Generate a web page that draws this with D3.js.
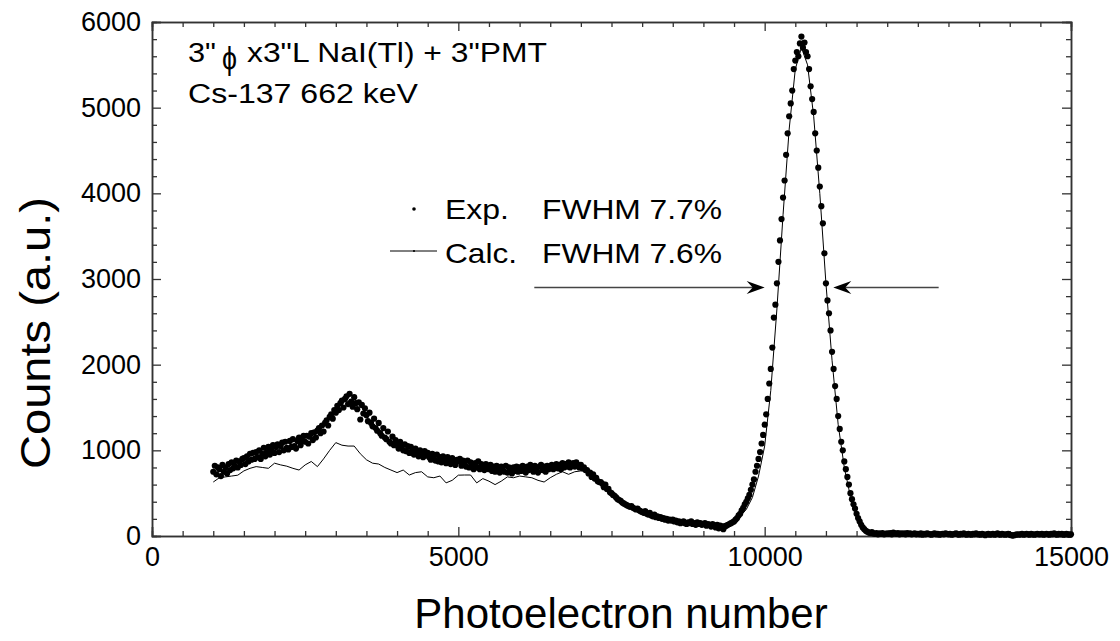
<!DOCTYPE html>
<html>
<head>
<meta charset="utf-8">
<script src="https://cdn.jsdelivr.net/npm/d3@7"></script>
<style>
  body { margin: 0; background: #fff; }
  svg text { font-family: "Liberation Sans", Arial, sans-serif; fill: #000; }
</style>
</head>
<body>
<svg id="chart" width="1120" height="641"></svg>
<script>

// experimental spectrum, one point every 25 photoelectrons starting at 1000
var expStart = 1000, expStep = 25
var expCounts = [
  750, 820, 720, 800, 780, 700, 830, 750, 800, 730, 840, 770, 860, 790, 820, 880, 800, 870, 830, 900,
  910, 840, 930, 870, 960, 890, 970, 900, 980, 920, 1000, 900, 960, 1030, 930, 980, 1040, 950, 1000, 1060,
  970, 1040, 1070, 980, 1050, 1090, 1000, 1100, 1030, 1010, 1110, 1040, 1130, 1050, 1020, 1110, 1150, 1060, 1120, 1170,
  1100, 1170, 1080, 1160, 1200, 1120, 1210, 1150, 1230, 1260, 1200, 1290, 1220, 1320, 1350, 1290, 1390, 1420, 1370, 1470,
  1440, 1520, 1470, 1550, 1580, 1500, 1600, 1630, 1540, 1660, 1570, 1510, 1620, 1550, 1480, 1560, 1360, 1530, 1430, 1490,
  1410, 1340, 1440, 1320, 1280, 1370, 1260, 1230, 1320, 1200, 1170, 1260, 1150, 1130, 1220, 1100, 1080, 1160, 1060, 1120,
  1080, 1020, 1100, 1040, 1000, 1070, 990, 1050, 970, 1040, 990, 950, 1020, 970, 930, 1000, 950, 920, 990, 940,
  970, 920, 890, 960, 910, 880, 950, 870, 920, 860, 930, 890, 850, 920, 870, 840, 910, 860, 830, 890,
  870, 900, 820, 880, 840, 810, 880, 800, 860, 820, 780, 850, 800, 870, 780, 840, 800, 770, 840, 790,
  780, 830, 760, 810, 750, 820, 780, 740, 810, 770, 750, 820, 740, 800, 770, 730, 800, 760, 810, 750,
  800, 760, 820, 770, 740, 810, 770, 830, 780, 750, 820, 780, 740, 810, 830, 770, 810, 750, 820, 780,
  810, 830, 780, 820, 840, 790, 830, 780, 850, 800, 840, 810, 860, 800, 840, 850, 810, 860, 830, 800,
  830, 790, 800, 770, 770, 730, 740, 690, 720, 670, 680, 640, 630, 630, 610, 570, 600, 550, 550, 510,
  500, 480, 470, 450, 430, 420, 410, 390, 380, 370, 360, 350, 340, 350, 330, 320, 310, 320, 300, 290,
  280, 270, 290, 260, 250, 270, 240, 230, 250, 220, 230, 210, 220, 200, 210, 190, 200, 180, 190, 180,
  190, 170, 180, 160, 170, 150, 160, 170, 150, 140, 160, 150, 170, 140, 150, 130, 160, 140, 150, 130,
  140, 150, 120, 140, 130, 110, 140, 120, 100, 130, 90, 120, 100, 80, 110, 120, 130, 140, 150, 160,
  170, 190, 210, 240, 260, 300, 330, 370, 400, 440, 480, 540, 600, 660, 750, 820, 900, 980, 1080, 1180,
  1300, 1420, 1600, 1780, 1950, 2200, 2550, 2700, 2950, 3200, 3450, 3700, 3950, 4150, 4450, 4700, 4900, 5050, 5200, 5450,
  5550, 5650, 5600, 5750, 5830, 5700, 5760, 5650, 5600, 5450, 5250, 5100, 4950, 4700, 4500, 4300, 4080, 3850, 3650, 3300,
  2950, 2750, 2600, 2400, 2150, 1950, 1750, 1600, 1400, 1250, 1100, 1000, 870, 780, 690, 600, 500, 430, 370, 320,
  260, 210, 170, 130, 100, 80, 60, 50, 40, 35, 45, 30, 25, 35, 20, 30, 25, 35, 20, 25,
  30, 25, 35, 20, 40, 30, 25, 35, 20, 30, 25, 30, 20, 35, 25, 30, 20, 25, 30, 20,
  25, 20, 30, 15, 25, 20, 30, 25, 20, 15, 25, 30, 20, 25, 15, 20, 25, 20, 30, 25,
  20, 25, 15, 20, 25, 30, 20, 15, 25, 20, 30, 20, 15, 25, 20, 15, 25, 20, 30, 20,
  20, 15, 25, 20, 10, 20, 25, 15, 20, 25, 15, 20, 30, 20, 15, 25, 20, 15, 20, 25,
  15, 10, 5, 10, 15, 20, 15, 20, 25, 15, 20, 25, 20, 15, 25, 20, 15, 20, 25, 20,
  20, 25, 15, 20, 25, 20, 15, 25, 20, 30, 20, 15, 25, 20, 25, 15, 20, 25, 20, 15,
  20
]

// calculated spectrum, one point every 100 photoelectrons starting at 1000
var calcStart = 1000, calcStep = 100
var calcCounts = [
  630, 680, 690, 700, 710, 760, 790, 810, 800, 790,
  850, 830, 815, 790, 770, 830, 870, 810, 900, 1000,
  1090, 1060, 1050, 1050, 960, 890, 850, 840, 800, 770,
  740, 770, 712, 740, 750, 690, 680, 700, 620, 650,
  710, 712, 712, 620, 670, 640, 600, 640, 690, 680,
  700, 690, 680, 650, 630, 680, 720, 750, 720, 750,
  760, 770, 720, 660, 590, 510, 440, 380, 340, 310,
  280, 260, 240, 220, 200, 190, 180, 170, 160, 155,
  150, 160, 150, 140, 150, 160, 230, 310, 450, 700,
  1050, 1700, 2650, 3750, 4750, 5450, 5700, 5500, 4900, 4000,
  2950, 2050, 1300, 800, 460, 220, 100, 50, 30, 20,
  20, 20, 20, 20, 20, 20, 20, 20, 20, 20,
  20, 20, 20, 20, 20, 20, 20, 20, 20, 20,
  20, 20, 20, 20, 20, 20, 20, 20, 20, 20,
  20
]

var xMajor = [0, 5000, 10000, 15000]
var yMajor = [0, 1000, 2000, 3000, 4000, 5000, 6000]
var fwhmLevel = 2900
var legendRows = [
  {name: "Exp.", fwhm: "FWHM 7.7%"},
  {name: "Calc.", fwhm: "FWHM 7.6%"}
]

var svg = d3.select("#chart")
var L = 152, R = 1071, T = 22, B = 536
var axisColor = "#333"

var x = d3.scaleLinear().domain([0, 15000]).range([L, R])
var y = d3.scaleLinear().domain([0, 6000]).range([B, T])

var xMinor = d3.range(0, 15001, 500).filter(function(d) {return d % 5000 != 0})
var yMinor = d3.range(0, 6001, 200).filter(function(d) {return d % 1000 != 0})

function drawAxis(axisFn, scale, transform, major, minor, labels) {
  var g1 = svg.append("g").attr("transform", transform)
    .call(axisFn(scale).tickValues(major).tickSize(-9).tickPadding(labels ? 11 : 0)
      .tickFormat(labels ? d3.format("d") : ""))
  var g2 = svg.append("g").attr("transform", transform)
    .call(axisFn(scale).tickValues(minor).tickSize(-5).tickFormat(""))
  ;[g1, g2].forEach(function(g) {
    g.select(".domain").attr("stroke", axisColor).attr("stroke-width", 1.5)
    g.selectAll(".tick line").attr("stroke", axisColor).attr("stroke-width", 1.3)
    g.selectAll("text").style("font-size", "27px").attr("font-family", "Liberation Sans, Arial, sans-serif").attr("fill", "#000")
  })
}

drawAxis(d3.axisBottom, x, "translate(0," + B + ")", xMajor, xMinor, true)
drawAxis(d3.axisTop, x, "translate(0," + T + ")", xMajor, xMinor, false)
drawAxis(d3.axisLeft, y, "translate(" + L + ",0)", yMajor, yMinor, true)
drawAxis(d3.axisRight, y, "translate(" + R + ",0)", yMajor, yMinor, false)

// calculated line
var calcData = calcCounts.map(function(c, i) {return [calcStart + i * calcStep, c]})
svg.append("path").datum(calcData)
  .attr("fill", "none").attr("stroke", "#000").attr("stroke-width", 1)
  .attr("d", d3.line().x(function(d) {return x(d[0])}).y(function(d) {return y(d[1])}))

// experimental dots
var expData = expCounts.map(function(c, i) {return [expStart + i * expStep, c]})
svg.append("g").selectAll("circle").data(expData).enter().append("circle")
  .attr("cx", function(d) {return x(d[0])})
  .attr("cy", function(d) {return y(d[1])})
  .attr("r", 3.1)
  .attr("fill", "#000")

// FWHM arrows
function arrow(x0, x1) {
  var yy = y(fwhmLevel)
  var dir = x1 > x0 ? 1 : -1
  svg.append("line").attr("x1", x(x0)).attr("x2", x(x1) - dir * 10).attr("y1", yy).attr("y2", yy)
    .attr("stroke", "#444").attr("stroke-width", 1.5)
  var tx = x(x1)
  svg.append("path")
    .attr("d", "M" + tx + "," + yy + "L" + (tx - dir * 18) + "," + (yy - 6.5) + "L" + (tx - dir * 12) + "," + yy + "L" + (tx - dir * 18) + "," + (yy + 6.5) + "Z")
    .attr("fill", "#000")
}
arrow(6240, 10000)
arrow(12840, 11120)

// labels (the original lettering is a little wider than Arial, hence textLength)
function label(xx, yy, size, str, width) {
  return svg.append("text").attr("x", xx).attr("y", yy).style("font-size", size + "px")
    .attr("textLength", width).attr("lengthAdjust", "spacingAndGlyphs").text(str)
}
label(188, 62, 27, "3\"", 28)
svg.append("text").attr("x", 222).attr("y", 69).style("font-size", "31px")
  .attr("font-family", "DejaVu Serif").attr("textLength", 15).attr("lengthAdjust", "spacingAndGlyphs").text("\u03D5")
label(247, 62, 27, "x3\"L NaI(Tl) + 3\"PMT", 300)
label(188, 103, 27, "Cs-137 662 keV", 230)

var legendY = [219, 263]
legendRows.forEach(function(row, i) {
  label(445, legendY[i], 28, row.name, i == 0 ? 64 : 72)
  label(542, legendY[i], 28, row.fwhm, 180)
})
svg.append("circle").attr("cx", 414).attr("cy", 209).attr("r", 1.8).attr("fill", "#000")
svg.append("line").attr("x1", 390).attr("x2", 437).attr("y1", 251).attr("y2", 251).attr("stroke", "#000").attr("stroke-width", 1)
svg.append("circle").attr("cx", 414).attr("cy", 251).attr("r", 1.1).attr("fill", "#000")

svg.append("text").attr("x", 621).attr("y", 628).attr("text-anchor", "middle")
  .style("font-size", "42px").text("Photoelectron number")
svg.append("text").attr("transform", "translate(50,333) rotate(-90)")
  .attr("text-anchor", "middle").style("font-size", "42px")
  .attr("textLength", 272).attr("lengthAdjust", "spacingAndGlyphs").text("Counts (a.u.)")

</script>
</body>
</html>
